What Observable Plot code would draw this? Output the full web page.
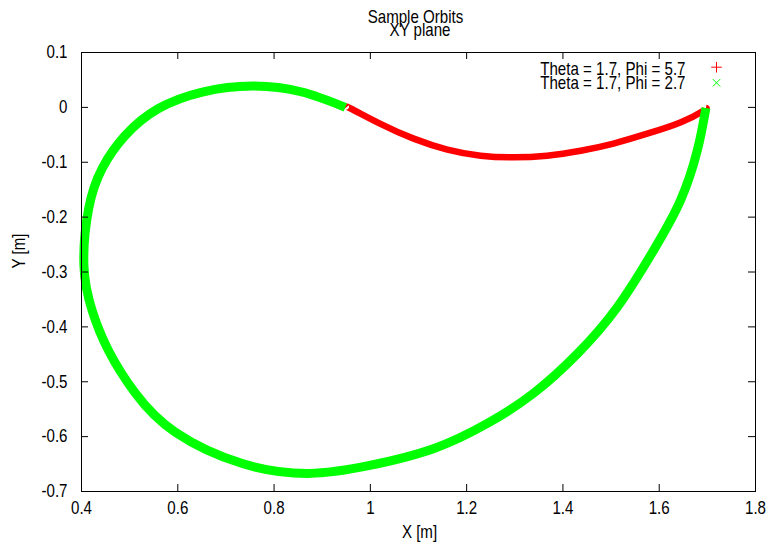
<!DOCTYPE html>
<html><head><meta charset="utf-8">
<script src="https://cdn.jsdelivr.net/npm/d3@7"></script>
<script src="https://cdn.jsdelivr.net/npm/@observablehq/plot@0.6"></script>
<style>html,body{margin:0;padding:0;background:#fff}</style>
</head><body><div id="chart"></div>
<script>
const titleLines = ["Sample Orbits", "XY plane"];
const xLabel = "X [m]";
const yLabel = "Y [m]";
const seriesNames = ["Theta = 1.7, Phi = 5.7", "Theta = 1.7, Phi = 2.7"];
const seriesColors = ["#ff0000", "#00ff00"];
const xTicks = [0.4, 0.6, 0.8, 1.0, 1.2, 1.4, 1.6, 1.8];
const yTicks = [-0.7, -0.6, -0.5, -0.4, -0.3, -0.2, -0.1, 0, 0.1];

// Orbit 1 (red): Theta = 1.7, Phi = 5.7
const redX = [0.950, 0.959, 1.021, 1.090, 1.160, 1.229, 1.298, 1.367, 1.437, 1.505, 1.575, 1.645, 1.692, 1.697];
const redY = [0.000, -0.002, -0.030, -0.057, -0.077, -0.088, -0.091, -0.088, -0.079, -0.066, -0.048, -0.027, -0.006, -0.001];

// Orbit 2 (green): Theta = 1.7, Phi = 2.7
const greenX = [1.697, 1.679, 1.644, 1.588, 1.513, 1.430, 1.339, 1.243, 1.131, 0.996, 0.872, 0.734, 0.595, 0.512, 0.456, 0.422, 0.405, 0.415, 0.443, 0.491, 0.560, 0.651, 0.755, 0.858, 0.948];
const greenY = [-0.001, -0.079, -0.170, -0.261, -0.364, -0.449, -0.521, -0.576, -0.622, -0.653, -0.667, -0.649, -0.592, -0.521, -0.443, -0.370, -0.288, -0.184, -0.111, -0.051, -0.002, 0.028, 0.039, 0.028, 0.000];

const W = 771, H = 544;
const mL = 81, mR = 16, mT = 52, mB = 53;
const PW = W - mL - mR, PH = H - mT - mB;
const fmt = d => String(Math.round(d * 10) / 10);
const font = "'Liberation Sans', Arial, sans-serif";
const narrow = 0.84;

const chart = Plot.plot({
  width: W, height: H,
  marginLeft: mL, marginRight: mR, marginTop: mT, marginBottom: mB,
  style: {fontFamily: font, fontSize: "18px", background: "#fff", color: "#000"},
  x: {domain: [0.4, 1.8]},
  y: {domain: [-0.7, 0.1]},
  marks: [
    Plot.line(redX, {x: redX, y: redY, stroke: seriesColors[0], strokeWidth: 6.5, curve: "natural", strokeLinecap: "butt"}),
    Plot.line(greenX, {x: greenX, y: greenY, stroke: seriesColors[1], strokeWidth: 9, curve: "natural", strokeLinecap: "butt"}),
    Plot.frame({stroke: "#000", strokeWidth: 1}),
    Plot.tickX(xTicks, {x: d => d, insetTop: PH - 7, stroke: "#000"}),
    Plot.tickX(xTicks, {x: d => d, insetBottom: PH - 7, stroke: "#000"}),
    Plot.tickY(yTicks, {y: d => d, insetRight: PW - 7, stroke: "#000"}),
    Plot.tickY(yTicks, {y: d => d, insetLeft: PW - 7, stroke: "#000"}),
    Plot.axisX({ticks: xTicks, tickSize: 0, tickPadding: 10, tickFormat: fmt, label: null, fontSize: 18}),
    Plot.axisY({ticks: yTicks, tickSize: 0, tickPadding: 14, tickFormat: fmt, label: null, fontSize: 18}),
    Plot.text([titleLines[0]], {frameAnchor: "top", text: d => d, lineAnchor: "top", dx: -3, dy: -42, fontSize: 18}),
    Plot.text([titleLines[1]], {frameAnchor: "top", text: d => d, lineAnchor: "top", dx: 1.5, dy: -29.5, fontSize: 18}),
    Plot.text([xLabel], {frameAnchor: "bottom", text: d => d, lineAnchor: "top", dx: 1, dy: 33.5, fontSize: 18}),
    Plot.text([yLabel], {frameAnchor: "left", text: d => d, rotate: -90, lineAnchor: "middle", dx: -62, dy: -3.5, fontSize: 18}),
    Plot.text([seriesNames[0]], {frameAnchor: "top-right", text: d => d, textAnchor: "end", lineAnchor: "top", dx: -70, dy: 9.7, fontSize: 18}),
    Plot.text([seriesNames[1]], {frameAnchor: "top-right", text: d => d, textAnchor: "end", lineAnchor: "top", dx: -70, dy: 24, fontSize: 18}),
    Plot.dot([0], {frameAnchor: "top-right", dx: -39, dy: 14.7, symbol: "plus", r: 3.5, stroke: seriesColors[0], strokeWidth: 1}),
    Plot.dot([0], {frameAnchor: "top-right", dx: -39, dy: 30.3, symbol: "times", r: 3.5, stroke: seriesColors[1], strokeWidth: 1})
  ]
});
// gnuplot's condensed lettering: compress each text horizontally about its anchor
d3.select(chart).selectAll("text").each(function() {
  const t = d3.select(this);
  const x = parseFloat(t.attr("x")) || 0;
  const tr = t.attr("transform") || "";
  t.attr("transform", `${tr} translate(${x},0) scale(${narrow},1) translate(${-x},0)`.trim());
});
document.getElementById("chart").appendChild(chart);
</script>
</body></html>
